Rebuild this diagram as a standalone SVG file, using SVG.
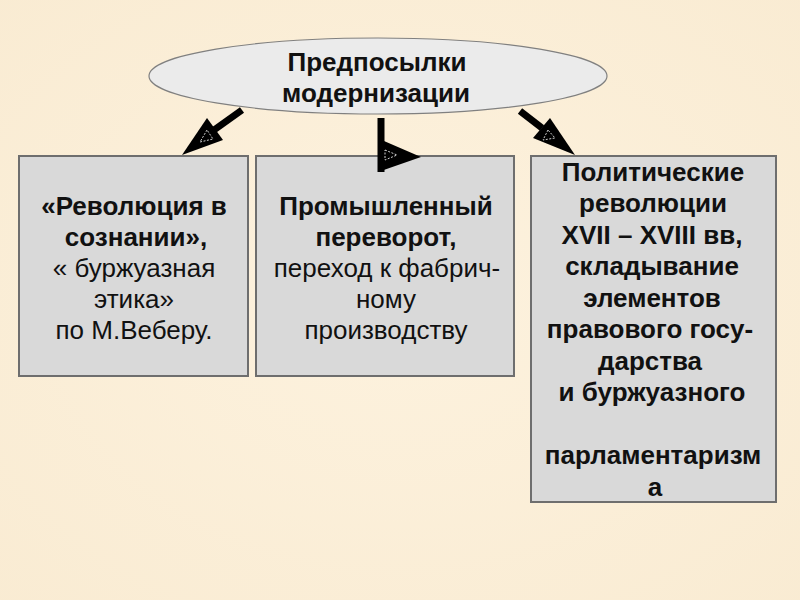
<svg xmlns="http://www.w3.org/2000/svg" width="800" height="600" viewBox="0 0 800 600">
<defs>
<radialGradient id="bg" cx="50%" cy="50%" r="75%">
<stop offset="0" stop-color="#fdf2de"/>
<stop offset="1" stop-color="#f9ebd2"/>
</radialGradient>
<style>
.box{fill:#d9d9d9;stroke:#6e6e6e;stroke-width:2}
.ell{fill:#ebebeb;stroke:#808080;stroke-width:1.2}
text{font-family:"Liberation Sans",Arial,sans-serif;font-size:26px;fill:#111;text-anchor:middle}
.b{font-weight:bold}
.shaft{stroke:#000;stroke-width:7;fill:none}
.head{fill:#000}
.inner{fill:none;stroke:#cfcfcf;stroke-width:1;stroke-dasharray:2 1.5}
</style>
</defs>
<rect width="800" height="600" fill="url(#bg)"/>
<g id="top">
<ellipse class="ell" cx="378" cy="76" rx="229" ry="38"/>
<text class="b" x="377" y="71">Предпосылки</text>
<text class="b" x="376" y="102">модернизации</text>
</g>
<g id="box1">
<rect class="box" x="19" y="156" width="229" height="220"/>
<text class="b" x="134" y="215">«Революция в</text>
<text class="b" x="136" y="246">сознании»,</text>
<text x="134" y="277">« буржуазная</text>
<text x="134" y="308">этика»</text>
<text x="134" y="339">по М.Веберу.</text>
</g>
<g id="box2">
<rect class="box" x="256" y="156" width="258" height="220"/>
<text class="b" x="386" y="215">Промышленный</text>
<text class="b" x="386" y="246">переворот,</text>
<text x="387" y="277">переход к фабрич-</text>
<text x="386" y="308">ному</text>
<text x="386" y="339">производству</text>
</g>
<g id="box3">
<rect class="box" x="531" y="156" width="245" height="346"/>
<text class="b" x="653" y="181">Политические</text>
<text class="b" x="653" y="212">революции</text>
<text class="b" x="652" y="244">XVII – XVIII вв,</text>
<text class="b" x="652" y="275">складывание</text>
<text class="b" x="652" y="307">элементов</text>
<text class="b" x="650" y="338">правового госу-</text>
<text class="b" x="650" y="370">дарства</text>
<text class="b" x="652" y="401">и буржуазного</text>
<text class="b" x="653" y="464">парламентаризм</text>
<text class="b" x="655" y="496">а</text>
</g>
<g id="connectors">
<line class="shaft" x1="242" y1="110" x2="214" y2="130"/>
<polygon class="head" points="182,155 207,118 223,140"/>
<polygon class="inner" points="207,130 200,142 213,139"/>
<line class="shaft" x1="381" y1="118" x2="381" y2="172"/>
<polygon class="head" points="384,141 421,157 378,172 378,141"/>
<polygon class="inner" points="385,150 397,155 385,160"/>
<line class="shaft" x1="520" y1="111" x2="542" y2="128"/>
<polygon class="head" points="575,155 550,118 533,138"/>
<polygon class="inner" points="548,130 543,140 555,138"/>
</g>
</svg>
